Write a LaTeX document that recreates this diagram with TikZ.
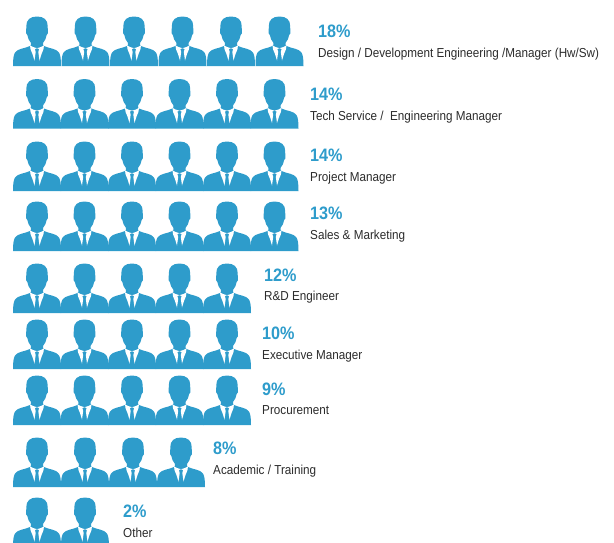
\documentclass[tikz,border=0pt]{standalone}
\usepackage{fontspec}
\setmainfont[FakeStretch=0.9]{Liberation Sans}
\definecolor{pblue}{HTML}{2E9CCB}
\definecolor{ptext}{HTML}{2B2B2B}
\tikzset{
  pct/.style={anchor=base west,inner sep=0pt,text=pblue,font=\fontsize{18}{20}\selectfont\bfseries},
  lbl/.style={anchor=base west,inner sep=0pt,text=ptext,font=\fontsize{13}{15}\selectfont},
  person/.pic={
    \fill[pblue]
      (24,0.5) .. controls (17,0.5) and (13.3,4) .. (13.3,10)
      .. controls (13.3,12) and (13.6,13) .. (13.2,15)
      .. controls (12.6,16) and (13,18.5) .. (14.3,19)
      .. controls (15,22) and (16,25) .. (18,27)
      .. controls (18.2,28.5) and (18,29.5) .. (17,30)
      .. controls (12,32.5) and (4.5,32.5) .. (2,36.5)
      .. controls (0.3,39.5) and (0,44) .. (0,50)
      -- (48,50)
      .. controls (48,44) and (47.7,39.5) .. (46,36.5)
      .. controls (43.5,32.5) and (36,32.5) .. (31,30)
      .. controls (30,29.5) and (29.8,28.5) .. (30,27)
      .. controls (32,25) and (33,22) .. (33.7,19)
      .. controls (35,18.5) and (35.4,16) .. (34.8,15)
      .. controls (34.4,13) and (34.7,12) .. (34.7,10)
      .. controls (34.7,4) and (31,0.5) .. (24,0.5) -- cycle;
    \fill[white] (17,29.3) -- (20,31) -- (24,32.2) -- (21.9,33) -- (22.7,36) -- (21.5,44.5)
      -- (19.5,38) -- (17.6,33.5) -- cycle;
    \fill[white] (31,29.3) -- (28,31) -- (24,32.2) -- (26.1,33) -- (25.3,36) -- (26.5,44.5)
      -- (28.5,38) -- (30.4,33.5) -- cycle;
  }
}
\begin{document}
\begin{tikzpicture}[x=1pt,y=-1pt]
\useasboundingbox (0,0) rectangle (614,542);
\begin{scope}
\clip (0,0) rectangle (614,542);
\foreach \n/\y/\p/\c in {1/16/48.5/6,2/78.5/47.5/6,3/141/47.5/6,4/201/47.5/6,5/263/47.5/5,6/319/47.5/5,7/375/47.5/5,8/437/48/4,9/497/48/2}{
  \foreach \i in {1,...,\c}{
    \pic[x=1pt,y=-1pt] (p\n-\i) at ({13+(\i-1)*\p},\y) {person};
  }
}
\end{scope}
\node[pct] (a1) at (318,37) {18\%};
\node[lbl] (b1) at (318,57) {Design / Development Engineering /Manager (Hw/Sw)};
\node[pct] (a2) at (310,100) {14\%};
\node[lbl] (b2) at (310,120) {Tech Service /\ \ Engineering Manager};
\node[pct] (a3) at (310,161) {14\%};
\node[lbl] (b3) at (310,181) {Project Manager};
\node[pct] (a4) at (310,219) {13\%};
\node[lbl] (b4) at (310,239) {Sales \& Marketing};
\node[pct] (a5) at (264,281) {12\%};
\node[lbl] (b5) at (264,300) {R\&D Engineer};
\node[pct] (a6) at (262,339) {10\%};
\node[lbl] (b6) at (262,359) {Executive Manager};
\node[pct] (a7) at (262,395) {9\%};
\node[lbl] (b7) at (262,414) {Procurement};
\node[pct] (a8) at (213,454) {8\%};
\node[lbl] (b8) at (213,474) {Academic / Training};
\node[pct] (a9) at (123,517) {2\%};
\node[lbl] (b9) at (123,537) {Other};
\end{tikzpicture}
\end{document}
